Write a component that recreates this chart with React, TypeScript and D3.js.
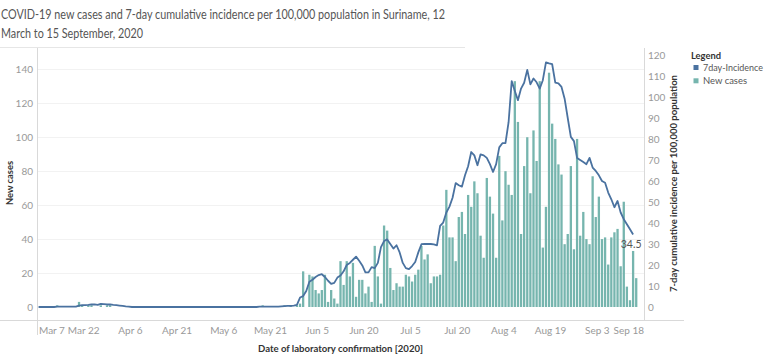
import { useEffect, useRef } from 'react';
import * as d3 from 'd3';

// daily series start on 7 March 2020
const startDate = '2020-03-07';

// new cases per day, one array per month
const casesMar = [0, 0, 0, 0, 0, 0, 1, 0, 0, 0, 0, 0, 0, 3, 1, 0, 1, 1, 0, 0, 1, 0, 1, 1, 0];
const casesApr = [0, 0, 0, 0, 0, 0, 0, 0, 0, 0, 0, 0, 0, 0, 0, 0, 0, 0, 0, 0, 0, 0, 0, 0, 0, 0, 0, 0, 0, 0];
const casesMay = [0, 0, 0, 0, 0, 0, 0, 0, 0, 0, 0, 0, 0, 0, 0, 0, 0, 1, 0, 0, 0, 0, 0, 0, 1, 0, 1, 0, 1, 2, 21];
const casesJun = [0, 19, 18, 10, 8, 10, 19, 3, 10, 5, 2, 27, 13, 27, 18, 26, 6, 16, 16, 8, 12, 3, 36, 18, 2, 48, 45, 23, 10, 14];
const casesJul = [12, 12, 19, 18, 15, 19, 22, 36, 28, 31, 14, 18, 18, 19, 48, 69, 41, 41, 27, 53, 56, 43, 66, 59, 74, 67, 42, 29, 76, 65, 55];
const casesAug = [29, 89, 51, 80, 72, 66, 133, 109, 43, 83, 100, 67, 104, 86, 133, 35, 59, 138, 108, 99, 84, 78, 37, 43, 83, 34, 99, 42, 56, 40, 37];
const casesSep = [77, 53, 65, 40, 41, 25, 41, 44, 46, 24, 62, 12, 4, 33, 17];

// 7-day cumulative incidence per 100,000, one array per month
const incMar = [0, 0, 0, 0, 0, 0, 0.2, 0.2, 0.2, 0.2, 0.2, 0.2, 0.2, 0.7, 0.9, 0.9, 1.0, 1.2, 1.2, 1.0, 1.5, 1.4, 1.2, 1.2, 1.0];
const incApr = [0.9, 0.7, 0.5, 0.3, 0.2, 0, 0, 0, 0, 0, 0, 0, 0, 0, 0, 0, 0, 0, 0, 0, 0, 0, 0, 0, 0, 0, 0, 0, 0, 0];
const incMay = [0, 0, 0, 0, 0, 0, 0, 0, 0, 0, 0, 0, 0, 0, 0, 0, 0.2, 0.2, 0.2, 0.2, 0.2, 0.2, 0.2, 0.3, 0.4, 0.5, 0.5, 0.7, 1.0, 4.5];
const incJun = [5.2, 7.6, 12, 13, 14.3, 15.2, 15.6, 14.3, 12.5, 11, 11.5, 14, 15, 17, 20, 21, 22.5, 24, 22, 19.8, 16.5, 16.5, 19, 18.5, 21, 28.5, 31.4, 32.2, 30, 27.8];
const incJul = [29.4, 26, 21, 18.5, 18, 19.5, 21.4, 26, 29.9, 30, 30, 30, 29.8, 29.4, 38.6, 40.2, 45, 47.8, 52, 59, 58, 57.3, 62.7, 67, 73.8, 72.2, 67.5, 72.7, 72.2, 71, 68];
const incAug = [64.3, 68, 76, 78, 78, 88, 107.6, 102.9, 98.5, 104, 106.8, 112.9, 106, 108.8, 107, 104, 108, 116.5, 116, 115.6, 106.8, 106.5, 104.8, 99.2, 90, 81, 79, 71, 70, 69, 68];
const incSep = [71, 66.4, 64.8, 62.7, 60, 59.2, 54.5, 51.3, 47.5, 50.5, 45, 41.8, 39.4, 37, 34.5];

const xTickDates = ['2020-03-07', '2020-03-22', '2020-04-06', '2020-04-21', '2020-05-06', '2020-05-21', '2020-06-05',
  '2020-06-20', '2020-07-05', '2020-07-20', '2020-08-04', '2020-08-19', '2020-09-03', '2020-09-18'];
const leftTicks = [0, 20, 40, 60, 80, 100, 120, 140];
const rightTicks = [0, 10, 20, 30, 40, 50, 60, 70, 80, 90, 100, 110, 120];

const barColor = '#76b5ae';
const lineColor = '#4a72a0';
const font = 'Lato, "Open Sans", "Liberation Sans", sans-serif';

const App = () => {
  const svgRef = useRef<SVGSVGElement>(null);

  useEffect(() => {
    const svg = d3.select(svgRef.current);
    svg.selectAll('*').remove();

    const parse = d3.timeParse('%Y-%m-%d');
    const start = parse(startDate) as Date;
    const newCases = [...casesMar, ...casesApr, ...casesMay, ...casesJun, ...casesJul, ...casesAug, ...casesSep];
    const incidence = [...incMar, ...incApr, ...incMay, ...incJun, ...incJul, ...incAug, ...incSep];
    const days = newCases.map((_, i) => d3.timeHour.offset(d3.timeDay.offset(start, i), 12));

    const left = 37;
    const right = 644;
    const top = 48;
    const bottom = 320;

    const x = d3.scaleTime()
      .domain([parse('2020-03-07') as Date, parse('2020-09-18') as Date])
      .range([left, right]);
    const yL = d3.scaleLinear().domain([0, 140]).range([307, 69.3]);
    const yR = d3.scaleLinear().domain([0, 120]).range([307, 55]);

    // title
    const title = svg.append('g').style('font-family', font).attr('fill', '#555');
    title.append('text').attr('x', 1).attr('y', 18.5).style('font-size', '14px')
      .attr('textLength', 444).attr('lengthAdjust', 'spacingAndGlyphs')
      .text('COVID-19 new cases and 7-day cumulative incidence per 100,000 population in Suriname, 12');
    title.append('text').attr('x', 1).attr('y', 38).style('font-size', '14px')
      .attr('textLength', 142).attr('lengthAdjust', 'spacingAndGlyphs')
      .text('March to 15 September, 2020');

    svg.append('line').attr('x1', 0).attr('x2', 465).attr('y1', 47.5).attr('y2', 47.5)
      .attr('stroke', '#e6e6e6');

    // gridlines
    svg.append('g').selectAll('line').data(leftTicks.filter(d => d > 0)).join('line')
      .attr('x1', left).attr('x2', right)
      .attr('y1', d => Math.round(yL(d)) + 0.5).attr('y2', d => Math.round(yL(d)) + 0.5)
      .attr('stroke', '#f2f2f2');

    // axis lines
    const axisColor = '#d9d9d9';
    svg.append('line').attr('x1', left + 0.5).attr('x2', left + 0.5).attr('y1', top).attr('y2', 335).attr('stroke', axisColor);
    svg.append('line').attr('x1', right + 0.5).attr('x2', right + 0.5).attr('y1', top).attr('y2', bottom).attr('stroke', axisColor);
    svg.append('line').attr('x1', 0).attr('x2', 684).attr('y1', bottom + 0.5).attr('y2', bottom + 0.5).attr('stroke', axisColor);

    // bars
    const bw = 2.3;
    svg.append('g').selectAll('rect').data(newCases).join('rect')
      .attr('x', (_, i) => x(days[i]) - bw / 2)
      .attr('width', bw)
      .attr('y', d => yL(d))
      .attr('height', d => yL(0) - yL(d))
      .attr('fill', barColor);

    // incidence line
    const line = d3.line<number>()
      .x((_, i) => x(days[i]))
      .y(d => yR(d));
    svg.append('path').datum(incidence)
      .attr('d', line)
      .attr('fill', 'none')
      .attr('stroke', lineColor)
      .attr('stroke-width', 1.8)
      .attr('stroke-linejoin', 'round');

    const lastIdx = incidence.length - 1;
    svg.append('text')
      .attr('x', x(days[lastIdx]) - 2)
      .attr('y', yR(incidence[lastIdx]) + 13)
      .attr('text-anchor', 'middle')
      .style('font-family', font).style('font-size', '10.5px').attr('fill', '#555')
      .text(String(incidence[lastIdx]));

    // left axis labels
    svg.append('g').selectAll('text').data(leftTicks).join('text')
      .attr('x', 33).attr('y', d => yL(d)).attr('dy', '0.35em')
      .attr('text-anchor', 'end')
      .style('font-family', font).style('font-size', '10px').attr('fill', '#999')
      .text(d => d);

    // right axis labels
    svg.append('g').selectAll('text').data(rightTicks).join('text')
      .attr('x', 648).attr('y', d => yR(d)).attr('dy', '0.35em')
      .attr('text-anchor', 'start')
      .style('font-family', font).style('font-size', '10px').attr('fill', '#999')
      .text(d => d);

    // x axis labels, kept inside the plot edges
    const fmt = d3.timeFormat('%b %-d');
    const xl = svg.append('g').selectAll('text').data(xTickDates).join('text')
      .attr('y', 334)
      .style('font-family', font).style('font-size', '10px').attr('fill', '#999')
      .text(d => fmt(parse(d) as Date));
    xl.each(function (d) {
      const node = this as SVGTextElement;
      const w = node.getComputedTextLength();
      let cx = x(parse(d) as Date);
      if (cx - w / 2 < left + 2) cx = left + 2 + w / 2;
      if (cx + w / 2 > right) cx = right - w / 2;
      d3.select(node).attr('x', cx).attr('text-anchor', 'middle');
    });

    // axis titles
    const axTitle = (sel: any) => sel.style('font-family', font).style('font-size', '10px')
      .style('font-weight', 'bold').attr('fill', '#333').attr('text-anchor', 'middle');
    svg.append('text').attr('transform', 'translate(12.5,183) rotate(-90)')
      .attr('textLength', 44).attr('lengthAdjust', 'spacingAndGlyphs')
      .call(axTitle).text('New cases');
    svg.append('text').attr('transform', 'translate(677,183.5) rotate(-90)')
      .attr('textLength', 217).attr('lengthAdjust', 'spacingAndGlyphs')
      .call(axTitle).text('7-day cumulative incidence per 100,000 population');
    svg.append('text').attr('x', (left + right) / 2).attr('y', 352)
      .attr('textLength', 165).attr('lengthAdjust', 'spacingAndGlyphs')
      .call(axTitle).text('Date of laboratory confirmation [2020]');

    // legend
    const legend = svg.append('g').style('font-family', font);
    legend.append('text').attr('x', 691).attr('y', 59).style('font-size', '10px')
      .style('font-weight', 'bold').attr('fill', '#333')
      .attr('textLength', 30).attr('lengthAdjust', 'spacingAndGlyphs').text('Legend');
    const items = [
      { label: '7day-Incidence', color: lineColor, w: 60 },
      { label: 'New cases', color: barColor, w: 44 },
    ];
    items.forEach((item, i) => {
      legend.append('rect').attr('x', 693.5).attr('y', 65 + i * 13.3).attr('width', 5).attr('height', 5)
        .attr('fill', item.color);
      legend.append('text').attr('x', 703).attr('y', 70.5 + i * 13.3).style('font-size', '10px')
        .attr('fill', '#555').attr('textLength', item.w).attr('lengthAdjust', 'spacingAndGlyphs')
        .text(item.label);
    });
  }, []);

  return (
    <svg ref={svgRef} width={768} height={359}
      style={{ position: 'absolute', left: 0, top: 0, background: '#fff' }} />
  );
};

export default App;
